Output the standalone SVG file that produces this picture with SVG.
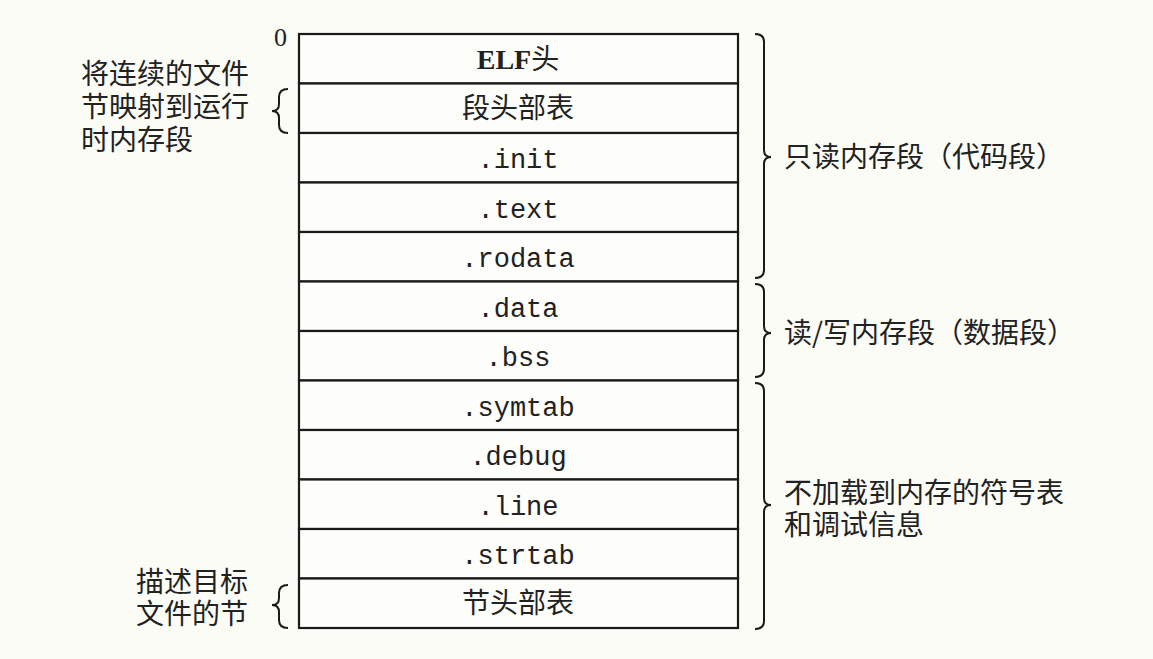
<svg xmlns="http://www.w3.org/2000/svg" width="1153" height="659" viewBox="0 0 1153 659">
<style>
.bg{fill:#fcfcf7}
.cell{fill:#fdfdfa;stroke:#1a1a1a;stroke-width:2.2}
.mono{font-family:"Liberation Mono","DejaVu Sans Mono",monospace;font-size:27px;fill:#222;text-anchor:middle}
.cjk{font-family:"Noto Sans CJK SC",sans-serif;font-size:28px;fill:#222}
.mid{text-anchor:middle}
.elf{font-family:"Liberation Serif","Noto Sans CJK SC",serif;font-size:28px;font-weight:bold;fill:#222;text-anchor:middle}
.brace{fill:none;stroke:#1a1a1a;stroke-width:2}
.zero{font-family:"Liberation Serif",serif;font-size:26px;fill:#222}
</style>
<rect class="bg" x="0" y="0" width="1153" height="659"/>
<text class="zero" x="274" y="46">0</text>
<g id="elf-header"><rect class="cell" x="299" y="34" width="439" height="49.5"/><text class="elf" x="518" y="69">ELF<tspan style="font-family:'Noto Sans CJK SC',sans-serif;font-weight:normal">头</tspan></text></g>
<g id="segment-header-table"><rect class="cell" x="299" y="83.5" width="439" height="49.5"/><text class="cjk mid" x="518" y="118">段头部表</text></g>
<g id="init"><rect class="cell" x="299" y="133" width="439" height="49.5"/><text class="mono" x="518" y="168">.init</text></g>
<g id="text"><rect class="cell" x="299" y="182.5" width="439" height="49.5"/><text class="mono" x="518" y="218">.text</text></g>
<g id="rodata"><rect class="cell" x="299" y="232" width="439" height="49.5"/><text class="mono" x="518" y="267">.rodata</text></g>
<g id="data"><rect class="cell" x="299" y="281.5" width="439" height="49.5"/><text class="mono" x="518" y="317">.data</text></g>
<g id="bss"><rect class="cell" x="299" y="331" width="439" height="49.5"/><text class="mono" x="518" y="366">.bss</text></g>
<g id="symtab"><rect class="cell" x="299" y="380.5" width="439" height="49.5"/><text class="mono" x="518" y="416">.symtab</text></g>
<g id="debug"><rect class="cell" x="299" y="430" width="439" height="49.5"/><text class="mono" x="518" y="465">.debug</text></g>
<g id="line"><rect class="cell" x="299" y="479.5" width="439" height="49.5"/><text class="mono" x="518" y="515">.line</text></g>
<g id="strtab"><rect class="cell" x="299" y="529" width="439" height="49.5"/><text class="mono" x="518" y="564">.strtab</text></g>
<g id="section-header-table"><rect class="cell" x="299" y="578.5" width="439" height="49.5"/><text class="cjk mid" x="518" y="613">节头部表</text></g>
<g id="connectors">
<path class="brace" d="M288 89 Q279 89 279 97 L279 104 Q279 111 272 111 Q279 111 279 118 L279 125 Q279 133 288 133"/>
<path class="brace" d="M288 585 Q279 585 279 593 L279 598 Q279 605 272 605 Q279 605 279 612 L279 620 Q279 628 288 628"/>
<path class="brace" d="M755 34 Q764 34 764 42 L764 150 Q764 157 771 157 Q764 157 764 164 L764 270 Q764 278 755 278"/>
<path class="brace" d="M755 284 Q764 284 764 292 L764 326 Q764 333 771 333 Q764 333 764 340 L764 369 Q764 377 755 377"/>
<path class="brace" d="M755 383 Q764 383 764 391 L764 498 Q764 505 771 505 Q764 505 764 512 L764 621 Q764 629 755 629"/>
</g>
<g id="label-left-top"><text class="cjk" x="81" y="84">将连续的文件<tspan x="81" dy="33">节映射到运行</tspan><tspan x="81" dy="33">时内存段</tspan></text></g>
<g id="label-left-bottom"><text class="cjk" x="136" y="592">描述目标<tspan x="136" dy="32">文件的节</tspan></text></g>
<g id="label-readonly"><text class="cjk" x="784" y="167">只读内存段（代码段）</text></g>
<g id="label-readwrite"><text class="cjk" x="784" y="343">读/写内存段（数据段）</text></g>
<g id="label-nonload"><text class="cjk" x="784" y="503">不加载到内存的符号表<tspan x="784" dy="32">和调试信息</tspan></text></g>
</svg>
